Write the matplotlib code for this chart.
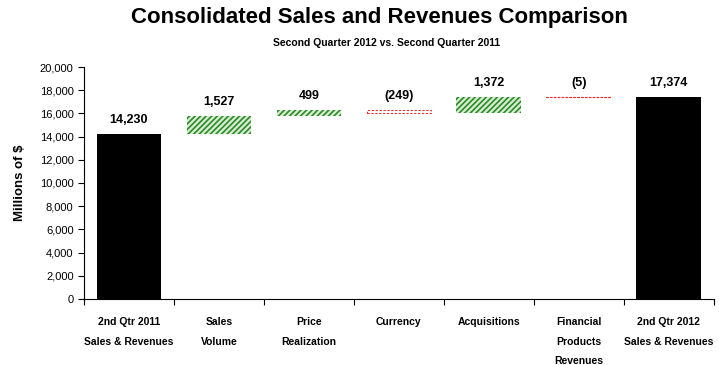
import matplotlib.pyplot as plt
import matplotlib as mpl

# data (millions of $)
categories = ["2nd Qtr 2011\nSales & Revenues", "Sales\nVolume", "Price\nRealization",
              "Currency", "Acquisitions", "Financial\nProducts\nRevenues",
              "2nd Qtr 2012\nSales & Revenues"]
start_total = 14230
changes = [1527, 499, -249, 1372, -5]
end_total = 17374
value_labels = ["14,230", "1,527", "499", "(249)", "1,372", "(5)", "17,374"]

mpl.rcParams['font.family'] = ['Liberation Sans', 'DejaVu Sans']
mpl.rcParams['hatch.linewidth'] = 1.2

fig = plt.figure(figsize=(7.19, 3.65), dpi=100)
ax = fig.add_axes([0.1168, 0.181, 0.876, 0.6354])

w = 0.72
x = list(range(len(categories)))

# totals
ax.bar(0, start_total, width=w, color='black')
ax.bar(6, end_total, width=w, color='black')

# floating changes
level = start_total
tops = [start_total]
for i, c in enumerate(changes):
    xi = i + 1
    bottom = level if c > 0 else level + c
    if c > 0:
        ax.bar(xi, c, bottom=bottom, width=w, facecolor='#d8edd0',
               edgecolor='#2a8a2a', linewidth=0, hatch='//////')
    else:
        ax.bar(xi, abs(c), bottom=bottom, width=w, facecolor='white',
               edgecolor='#e83030', linewidth=0.8, linestyle=(0, (2, 1.5)))
    level += c
    tops.append(max(level, level - c))
tops.append(end_total)

for xi, top, lab in zip(x, tops, value_labels):
    ax.text(xi, top + 700, lab, ha='center', va='bottom', fontsize=9,
            fontweight='bold')

ax.set_xlim(-0.5, 6.5)
ax.set_ylim(0, 20000)
ax.set_yticks(range(0, 20001, 2000))
ax.set_yticklabels([f"{v:,}" for v in range(0, 20001, 2000)], fontsize=8)
ax.set_xticks([i - 0.5 for i in range(8)])
ax.set_xticklabels([])
ax.set_xticks(x, minor=True)
ax.set_xticklabels(categories, minor=True, fontsize=7.5, fontweight='bold',
                   linespacing=2.2, va='top')
ax.tick_params(axis='x', which='minor', length=0, pad=13)
ax.tick_params(axis='x', which='major', length=4, direction='out')
ax.tick_params(axis='y', length=4, direction='out')
for s in ['top', 'right']:
    ax.spines[s].set_visible(False)

ax.set_ylabel("Millions of $", fontsize=9.5, fontweight='bold', labelpad=10)

fig.text(0.528, 0.952, "Consolidated Sales and Revenues Comparison",
         ha='center', va='center', fontsize=16, fontweight='bold')
fig.text(0.537, 0.882, "Second Quarter 2012 vs. Second Quarter 2011",
         ha='center', va='center', fontsize=7.5, fontweight='bold')

fig.savefig("out.png", dpi=100)
